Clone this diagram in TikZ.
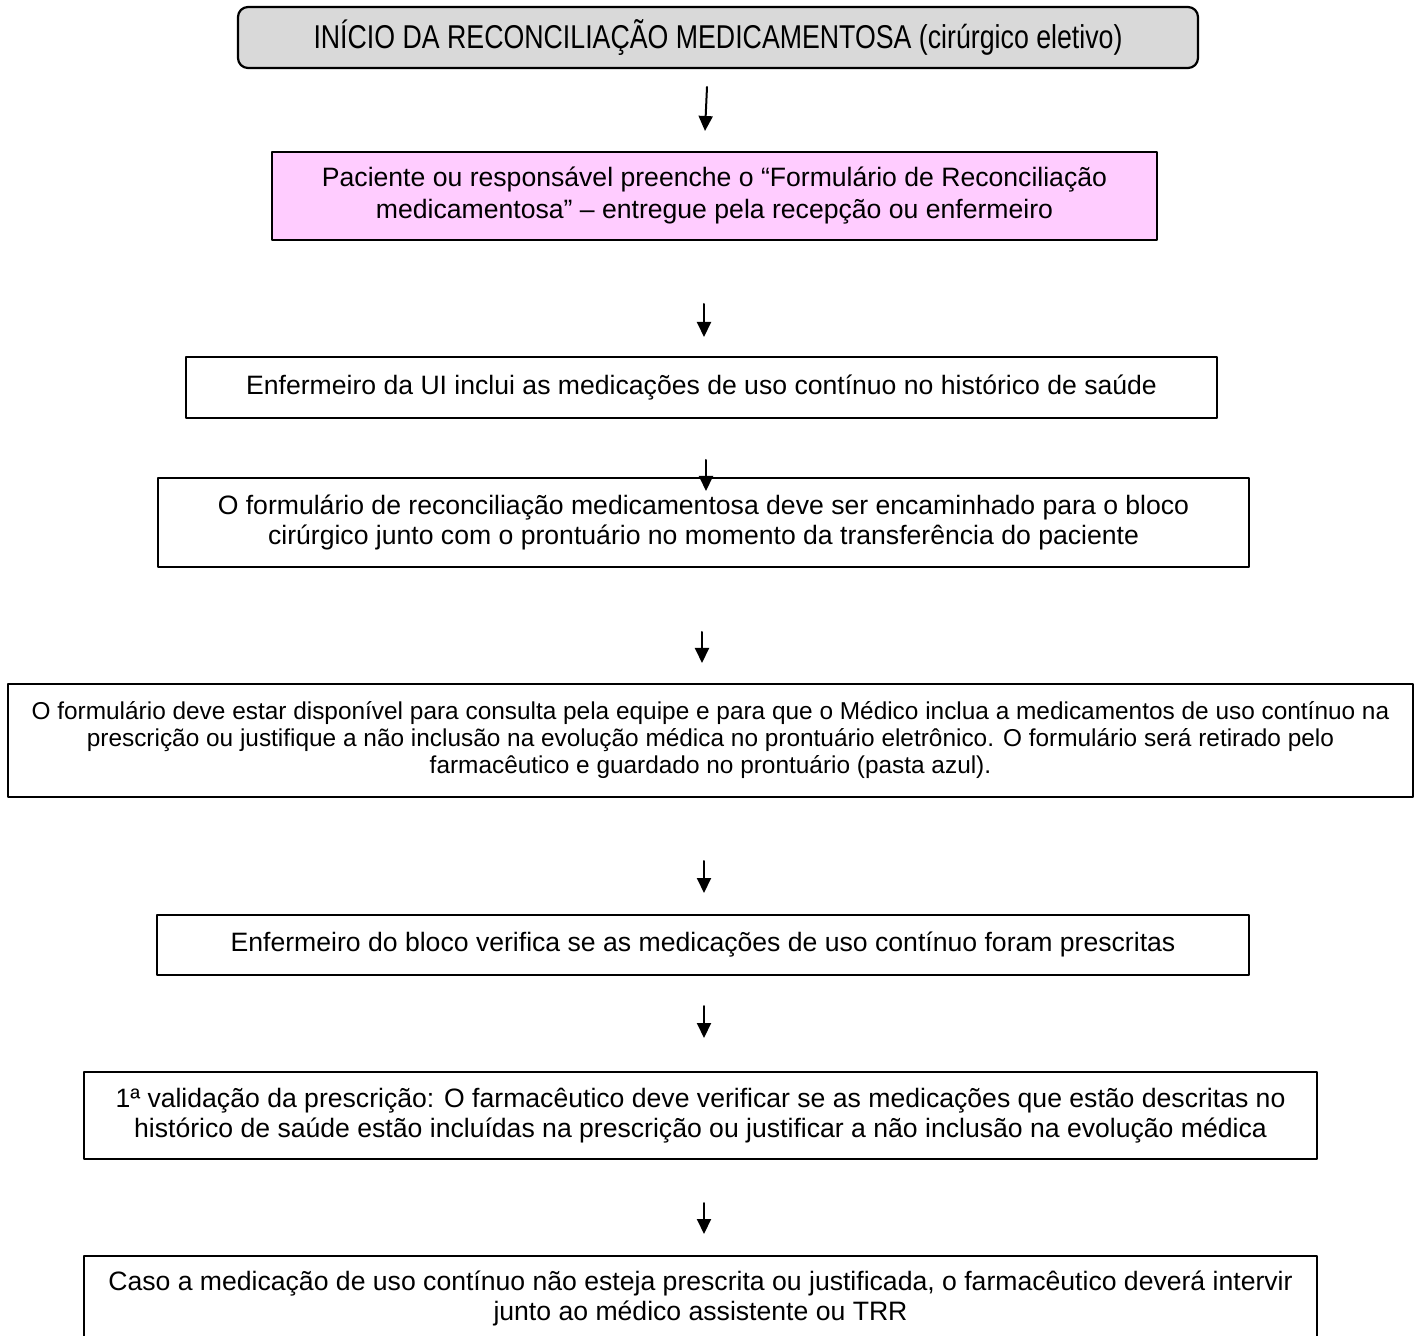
\documentclass[tikz,border=0pt]{standalone}
\usepackage{fontspec}
\setmainfont{Liberation Sans}
\usetikzlibrary{arrows.meta,positioning}
\definecolor{rosa}{RGB}{255,204,255}
\definecolor{cinza}{RGB}{217,217,217}

\begin{document}
\begin{tikzpicture}[line cap=round,line join=round,x=0.5pt,y=-0.5pt,
  caixa/.style={draw,line width=1.1pt,align=center,inner sep=0pt,font=\fontsize{13.3}{15}\selectfont},
  seta/.style={-{Triangle[length=7.5pt,width=7pt]},line width=1pt}]
\useasboundingbox (0,0) rectangle (1419,1336);
\node[caixa,fill=cinza,rounded corners=5pt,minimum width=480pt,minimum height=30.5pt,font=\fontsize{16.5}{18}\selectfont] (inicio) at (718,37.5)
  {\scalebox{0.81}[1]{INÍCIO DA RECONCILIAÇÃO MEDICAMENTOSA (cirúrgico eletivo)}};
\node[caixa,fill=rosa,minimum width=442.5pt,minimum height=44pt,font=\fontsize{13.3}{16}\selectfont] (paciente) at (714.5,196)
  {Paciente ou responsável preenche o “Formulário de Reconciliação\\medicamentosa” – entregue pela recepção ou enfermeiro};
\node[caixa,minimum width=515.5pt,minimum height=30.5pt] (enfui) at (701.5,387.5)
  {Enfermeiro da UI inclui as medicações de uso contínuo no histórico de saúde};
\node[caixa,minimum width=545.5pt,minimum height=44.5pt] (encaminha) at (703.5,522.5)
  {O formulário de reconciliação medicamentosa deve ser encaminhado para o bloco\\cirúrgico junto com o prontuário no momento da transferência do paciente};
\node[caixa,font=\fontsize{12.2}{13.5}\selectfont,minimum width=702.5pt,minimum height=56.5pt] (consulta) at (710.5,740.5)
  {O formulário deve estar disponível para consulta pela equipe e para que o Médico inclua a medicamentos de uso contínuo na\\prescrição ou justifique a não inclusão na evolução médica no prontuário eletrônico. O formulário será retirado pelo\\farmacêutico e guardado no prontuário (pasta azul).};
\node[caixa,minimum width=546pt,minimum height=30pt] (enfbloco) at (703,945)
  {Enfermeiro do bloco verifica se as medicações de uso contínuo foram prescritas};
\node[caixa,minimum width=616.5pt,minimum height=43.5pt] (validacao) at (700.5,1115.5)
  {1ª validação da prescrição: O farmacêutico deve verificar se as medicações que estão descritas no\\histórico de saúde estão incluídas na prescrição ou justificar a não inclusão na evolução médica};
\node[caixa,minimum width=616.5pt,minimum height=42.5pt] (intervir) at (700.5,1298.5)
  {Caso a medicação de uso contínuo não esteja prescrita ou justificada, o farmacêutico deverá intervir\\junto ao médico assistente ou TRR};
% setas entre as caixas
\foreach \i/\xa/\ya/\xb/\yb in {1/707/87/705/131, 2/704/304/704/337, 3/706/460/706/491, 4/702/632/702/663,
  5/704/861/704/893, 6/704/1006/704/1038, 7/704/1203/704/1234}
{
  \coordinate (s\i a) at (\xa,\ya);
  \coordinate (s\i b) at (\xb,\yb);
  \draw[seta] (s\i a) -- (s\i b);
};
\end{tikzpicture}
\end{document}
